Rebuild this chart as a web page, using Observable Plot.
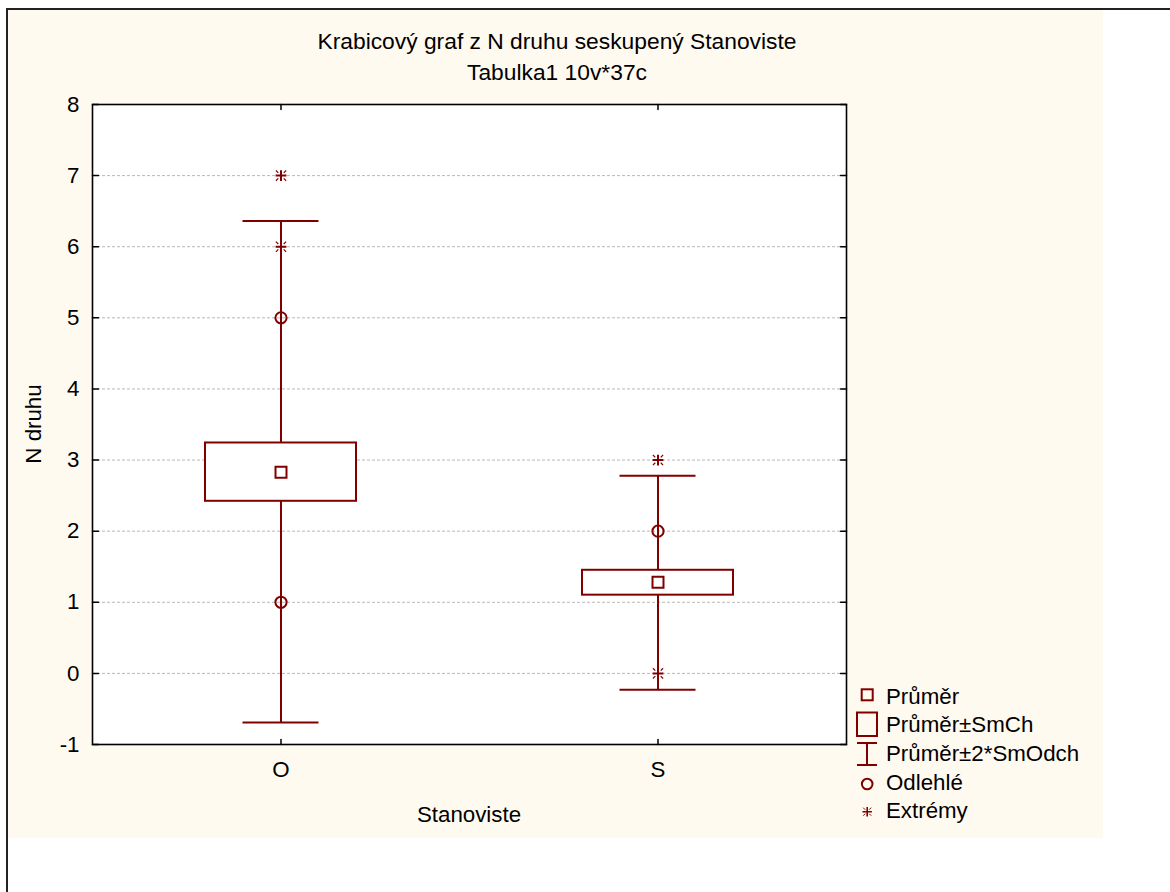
<!DOCTYPE html>
<html><head><meta charset="utf-8">
<script src="https://cdn.jsdelivr.net/npm/d3@7"></script>
<script src="https://cdn.jsdelivr.net/npm/@observablehq/plot@0.6"></script>
<style>
body{margin:0;background:#fff;font-family:"Liberation Sans",Arial,sans-serif;}
#wrap{position:relative;width:1170px;height:892px;overflow:hidden;}
#border{position:absolute;left:6px;top:8px;width:1200px;height:900px;border-left:2px solid #222;border-top:2px solid #222;}
#cream{position:absolute;left:8px;top:10px;width:1095px;height:828px;background:#fffaf0;}
.t{position:absolute;font-size:22.3px;line-height:22px;color:#000;white-space:nowrap;}
#chart{position:absolute;left:0;top:0;}
#legsym{position:absolute;left:850px;top:680px;}
</style></head>
<body>
<div id="wrap">
  <div id="border"></div>
  <div id="cream"></div>
  <div id="chart"></div>
  <div class="t" style="left:557px;top:30.2px;transform:translateX(-50%);font-size:22.8px">Krabicový graf z N druhu seskupený Stanoviste</div>
  <div class="t" style="left:557px;top:61.2px;transform:translateX(-50%);font-size:22.8px">Tabulka1 10v*37c</div>
  <div class="t" style="left:34.4px;top:424px;transform:translate(-50%,-50%) rotate(-90deg)">N druhu</div>
  <div class="t" style="left:469px;top:804.4px;transform:translateX(-50%)">Stanoviste</div>
  <svg id="legsym" width="40" height="150" viewBox="0 0 40 150">
    <rect x="11.7" y="9.3" width="11" height="11" fill="none" stroke="#800000" stroke-width="2"/>
    <rect x="7" y="32.5" width="20" height="23.5" fill="none" stroke="#800000" stroke-width="2"/>
    <path d="M7,63H27M17,63V85M7,85H27" fill="none" stroke="#800000" stroke-width="2"/>
    <circle cx="17.2" cy="104" r="5.3" fill="none" stroke="#800000" stroke-width="2"/>
    <path d="M12.5,131.7H21.9M17.2,127V136.4" stroke="#800000" stroke-width="1.6"/>
    <path d="M13.2,127.7L15.2,129.7M21.2,127.7L19.2,129.7M13.2,135.7L15.2,133.7M21.2,135.7L19.2,133.7" stroke="#800000" stroke-width="1"/>
  </svg>
  <div class="t" style="left:886px;top:686.4px">Průměr</div>
  <div class="t" style="left:886px;top:714.4px">Průměr±SmCh</div>
  <div class="t" style="left:886px;top:743.4px">Průměr±2*SmOdch</div>
  <div class="t" style="left:886px;top:772.4px">Odlehlé</div>
  <div class="t" style="left:886px;top:800.4px">Extrémy</div>
</div>
<script>
// ---- data ----
const categories = ["O", "S"];
const means = [2.83, 1.28];
const seLow = [2.42, 1.10];
const seHigh = [3.24, 1.45];
const sdLow = [-0.69, -0.23];
const sdHigh = [6.36, 2.78];
const outlierCat = ["O", "O", "S"];
const outlierVal = [5, 1, 2];
const extremeCat = ["O", "O", "S", "S"];
const extremeVal = [7, 6, 3, 0];
const yTicks = [-1, 0, 1, 2, 3, 4, 5, 6, 7, 8];

const red = "#800000";
const stats = categories.map((c, i) => ({cat: c, mean: means[i], seLo: seLow[i], seHi: seHigh[i], sdLo: sdLow[i], sdHi: sdHigh[i]}));
const outliers = outlierCat.map((c, i) => ({cat: c, v: outlierVal[i]}));
const extremes = extremeCat.map((c, i) => ({cat: c, v: extremeVal[i]}));

const plusSym = {draw(ctx, size) { const s = Math.sqrt(size / Math.PI); ctx.moveTo(-s, 0); ctx.lineTo(s, 0); ctx.moveTo(0, -s); ctx.lineTo(0, s); }};
const diagSym = {draw(ctx, size) { const s = Math.sqrt(size / Math.PI); for (const [a, b] of [[1,1],[1,-1],[-1,1],[-1,-1]]) { ctx.moveTo(a*s*0.45, b*s*0.45); ctx.lineTo(a*s*0.85, b*s*0.85); } }};
const lineShape = {draw(ctx, l) { ctx.moveTo(0, 0); ctx.lineTo(0, -l); }};
const tick = (data, opts) => Plot.vector(data, {anchor: "start", shape: lineShape, stroke: "black", strokeWidth: 1.5, ...opts});

const chart = Plot.plot({
  width: 1170, height: 892,
  marginLeft: 92, marginRight: 324, marginTop: 104, marginBottom: 148,
  style: {background: "transparent", fontFamily: "Liberation Sans, Arial, sans-serif", fontSize: "22px", color: "#000", overflow: "visible"},
  x: {type: "band", domain: categories, paddingInner: 0.6, paddingOuter: 0.3, axis: null},
  y: {domain: [-1, 8], axis: null},
  marks: [
    Plot.frame({fill: "white"}),
    Plot.gridY(yTicks, {stroke: "#b8b8b8", strokeOpacity: 1, strokeDasharray: "3,2"}),
    Plot.ruleX(stats, {x: "cat", y1: "sdLo", y2: "sdHi", stroke: red, strokeWidth: 2}),
    Plot.tickY(stats, {x: "cat", y: "sdHi", stroke: red, strokeWidth: 2, insetLeft: 37.5, insetRight: 37.5}),
    Plot.tickY(stats, {x: "cat", y: "sdLo", stroke: red, strokeWidth: 2, insetLeft: 37.5, insetRight: 37.5}),
    Plot.barY(stats, {x: "cat", y1: "seLo", y2: "seHi", fill: "white", stroke: red, strokeWidth: 2}),
    Plot.dot(stats, {x: "cat", y: "mean", symbol: "square", r: 6.2, fill: "white", stroke: red, strokeWidth: 2}),
    Plot.dot(outliers, {x: "cat", y: "v", r: 5.6, fill: "none", stroke: red, strokeWidth: 2}),
    Plot.dot(extremes, {x: "cat", y: "v", symbol: plusSym, r: 5.4, fill: "none", stroke: red, strokeWidth: 2}),
    Plot.dot(extremes, {x: "cat", y: "v", symbol: diagSym, r: 6, fill: "none", stroke: red, strokeWidth: 1.2}),
    Plot.frame({stroke: "black", strokeWidth: 1.6}),
    tick(yTicks, {y: d => d, frameAnchor: "left", rotate: 90, length: 6}),
    tick(yTicks, {y: d => d, frameAnchor: "right", rotate: -90, length: 6}),
    tick(categories, {x: d => d, frameAnchor: "bottom", rotate: 0, length: 5}),
    tick(categories, {x: d => d, frameAnchor: "top", rotate: 180, length: 5}),
    Plot.axisY(yTicks, {tickSize: 0, tickPadding: 13, fontSize: 22.3, tickFormat: d => String(d), label: null}),
    Plot.axisX(categories, {tickSize: 0, tickPadding: 17, fontSize: 22.3, label: null})
  ]
});
document.getElementById("chart").appendChild(chart);
</script>
</body></html>
